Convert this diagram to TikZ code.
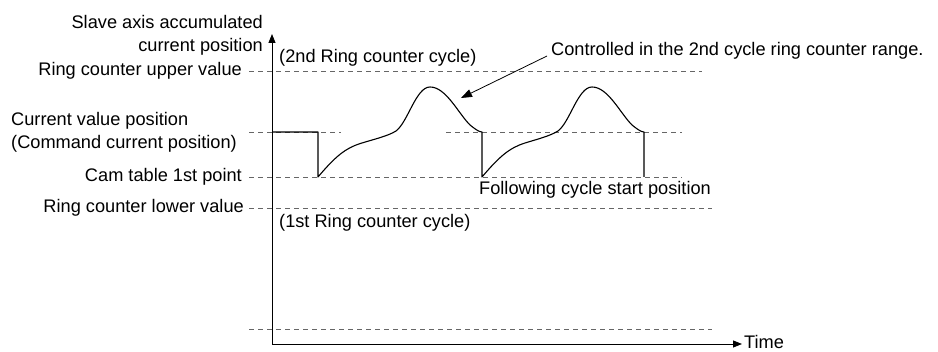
\documentclass[tikz,border=0pt]{standalone}
\usepackage{fontspec}
\setmainfont{Liberation Sans}
\usetikzlibrary{arrows.meta}
\begin{document}
\begin{tikzpicture}[x=1pt,y=-1pt,
  lbl/.style={inner sep=0pt,font=\fontsize{18.2}{23}\selectfont},
  guide/.style={draw=black!60,line width=0.8pt,dash pattern=on 5pt off 4pt},
  axis/.style={draw=black,line width=0.9pt,-{Triangle[length=9pt,width=7pt]}},
  curve/.style={draw=black,line width=1.1pt,line join=round},
  callout/.style={draw=black,line width=0.8pt,-{Triangle[length=11pt,width=8pt]}}]
\useasboundingbox (0,0) rectangle (938,352);
% coordinates
\coordinate (o) at (272,344);
\coordinate (ytop) at (272,34);
\coordinate (xend) at (742,344);
% guide lines
\draw[guide] (249,71) -- (702,71);
\draw[guide] (249,132) -- (341,132);
\draw[guide] (446,132) -- (682,132);
\draw[guide] (249,177) -- (682,177);
\draw[guide] (249,208) -- (712,208);
\draw[guide] (249,329) -- (712,329);
% axes
\draw[axis] (o) -- (ytop);
\draw[axis] (o) -- (xend);
\node[lbl,anchor=west] (time) at (744,342) {Time};
% curve
\draw[curve] (272,132) -- (318,132) -- (318,177)
  .. controls (335,157) and (345,148) .. (362,143)
  .. controls (375,139) and (388,136) .. (396,131)
  .. controls (408,122) and (416,87) .. (430,87)
  .. controls (446,87) and (458,113) .. (470,125)
  .. controls (475,129) and (479,132) .. (482,132)
  -- (482,177)
  .. controls (499,157) and (509,148) .. (525,143)
  .. controls (538,139) and (550,136) .. (558,131)
  .. controls (570,122) and (578,87) .. (592,87)
  .. controls (608,87) and (620,113) .. (632,125)
  .. controls (637,129) and (641,132) .. (644,132)
  -- (644,177);
\coordinate (tip) at (461,98);
% labels
\node[lbl,anchor=east,align=right] (yname) at (263,35) {Slave axis accumulated\\current position};
\node[lbl,anchor=east] (upper) at (242,71) {Ring counter upper value};
\node[lbl,anchor=west,align=left] (cur) at (11,132) {Current value position\\(Command current position)};
\node[lbl,anchor=east] (cam) at (242,177) {Cam table 1st point};
\node[lbl,anchor=east] (lower) at (244,208) {Ring counter lower value};
\node[lbl,anchor=west] (second) at (279,58) {(2nd Ring counter cycle)};
\node[lbl,anchor=west] (first) at (279,223) {(1st Ring counter cycle)};
\node[lbl,anchor=west] (follow) at (479,190) {Following cycle start position};
\node[lbl,anchor=west] (ctrl) at (551,51) {Controlled in the 2nd cycle ring counter range.};
\draw[callout] (ctrl.west) ++(-4,5) -- (tip);
\end{tikzpicture}
\end{document}
